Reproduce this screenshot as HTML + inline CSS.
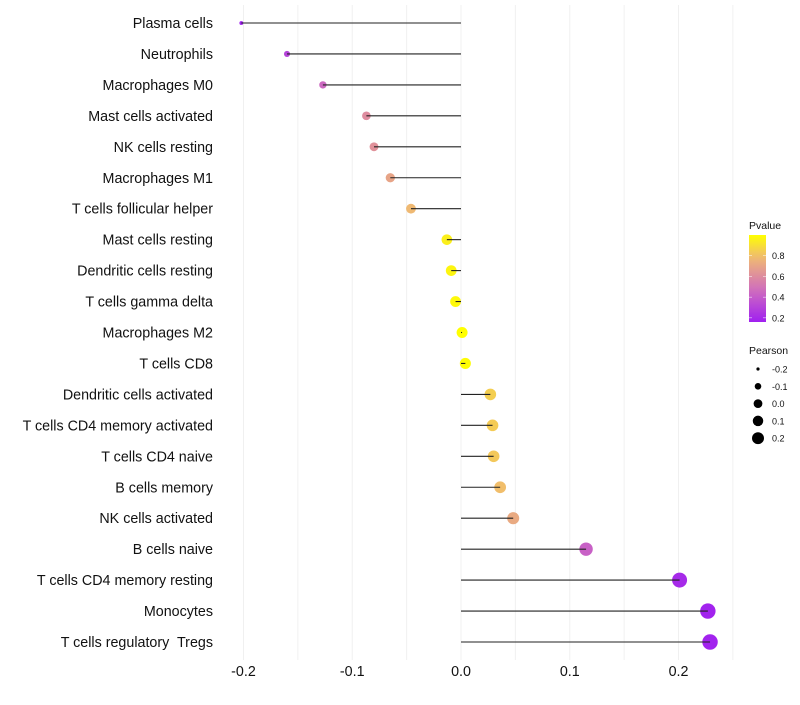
<!DOCTYPE html>
<html><head><meta charset="utf-8"><style>
body{margin:0;background:#fff;font-family:"Liberation Sans",sans-serif}
text{white-space:pre}
</style></head><body>
<svg id="chart" width="800" height="700" xmlns="http://www.w3.org/2000/svg" font-family="Liberation Sans, sans-serif">
<g id="grid"></g>
<g id="marks"></g>
<g id="ylab"></g>
<g id="xlab"></g>
<g id="legend"></g>
</svg>
<script>
const categories=["Plasma cells","Neutrophils","Macrophages M0","Mast cells activated","NK cells resting","Macrophages M1","T cells follicular helper","Mast cells resting","Dendritic cells resting","T cells gamma delta","Macrophages M2","T cells CD8","Dendritic cells activated","T cells CD4 memory activated","T cells CD4 naive","B cells memory","NK cells activated","B cells naive","T cells CD4 memory resting","Monocytes","T cells regulatory  Tregs"];
const pearson=[-0.202,-0.160,-0.127,-0.087,-0.080,-0.065,-0.046,-0.013,-0.009,-0.005,0.001,0.004,0.027,0.029,0.030,0.036,0.048,0.115,0.201,0.227,0.229];
const pvalue=[0.15,0.3,0.45,0.6,0.62,0.7,0.78,0.95,0.97,0.98,1.0,0.99,0.85,0.84,0.83,0.8,0.72,0.42,0.2,0.17,0.17];
const xTicks=[-0.2,-0.1,0.0,0.1,0.2];
const xTickLabels=["-0.2","-0.1","0.0","0.1","0.2"];
const gridVals=[-0.2,-0.15,-0.1,-0.05,0,0.05,0.1,0.15,0.2,0.25];
const pLegend=[0.2,0.4,0.6,0.8];
const sLegend=[-0.2,-0.1,0.0,0.1,0.2];
const NS="http://www.w3.org/2000/svg";
const x=v=>461+v*1087.5;
const y=i=>23+i*30.95;
const r=v=>Math.sqrt(Math.max(1.5,4+(v+0.2)*130));
const stops=[[0,[160,32,240]],[0.35,[205,106,192]],[0.55,[224,145,154]],[0.75,[240,187,112]],[1,[255,255,0]]];
function col(p){let t=Math.min(1,Math.max(0,(p-0.16)/0.84));for(let k=1;k<stops.length;k++){if(t<=stops[k][0]){const a=stops[k-1],b=stops[k],f=(t-a[0])/(b[0]-a[0]);const c=a[1].map((v,j)=>Math.round(v+(b[1][j]-v)*f));return `rgb(${c})`;}}return "rgb(255,255,0)";}
function el(tag,attrs,parent){const e=document.createElementNS(NS,tag);for(const k in attrs)e.setAttribute(k,attrs[k]);parent.appendChild(e);return e;}
const grid=document.getElementById('grid'),marks=document.getElementById('marks'),ylab=document.getElementById('ylab'),xlab=document.getElementById('xlab'),leg=document.getElementById('legend');
gridVals.forEach(v=>{const l=el('line',{x1:x(v),x2:x(v),y1:5,y2:660,stroke:'#f0f0f0','stroke-width':1},grid);

});
categories.forEach((c,i)=>{
const cc=el('circle',{cx:x(pearson[i]),cy:y(i),r:r(pearson[i]),fill:col(pvalue[i])},marks);


const s=el('line',{x1:x(pearson[i]),x2:x(0),y1:y(i),y2:y(i),stroke:'#222','stroke-width':1.1},marks);


const t=el('text',{x:213,y:y(i)+5,'text-anchor':'end','font-size':14.3,fill:'#111'},ylab);t.textContent=c;

});
xTicks.forEach((v,i)=>{const t=el('text',{x:x(v),y:676,'text-anchor':'middle','font-size':14.3,fill:'#111'},xlab);t.textContent=xTickLabels[i];

});
const defs=el('defs',{},leg);const g=el('linearGradient',{id:'cg',x1:0,y1:1,x2:0,y2:0},defs);
for(let k=0;k<=10;k++){const p=0.16+0.84*k/10;el('stop',{offset:k/10,'stop-color':col(p)},g);}
const tt=el('text',{x:749,y:229,'font-size':10.5,fill:'#111'},leg);tt.textContent='Pvalue';


const bar=el('rect',{x:749,y:235,width:17,height:87,fill:'url(#cg)'},leg);


const cy=p=>322-(p-0.16)/0.84*87;
pLegend.forEach(p=>{const l=el('text',{x:772,y:cy(p)+3.5,'font-size':9,fill:'#111'},leg);l.textContent=p.toFixed(1);


el('line',{x1:749,x2:752,y1:cy(p),y2:cy(p),stroke:'#fff','stroke-width':0.5},leg);el('line',{x1:763,x2:766,y1:cy(p),y2:cy(p),stroke:'#fff','stroke-width':0.5},leg);});
const st=el('text',{x:749,y:354,'font-size':10.5,fill:'#111'},leg);st.textContent='Pearson';


sLegend.forEach((v,i)=>{const yy=369+i*17.3;const c=el('circle',{cx:758,cy:yy,r:r(v)*0.8,fill:'#000'},leg);


const l=el('text',{x:772,y:yy+3.5,'font-size':9,fill:'#111'},leg);l.textContent=v.toFixed(1);

});
</script>
</body></html>
